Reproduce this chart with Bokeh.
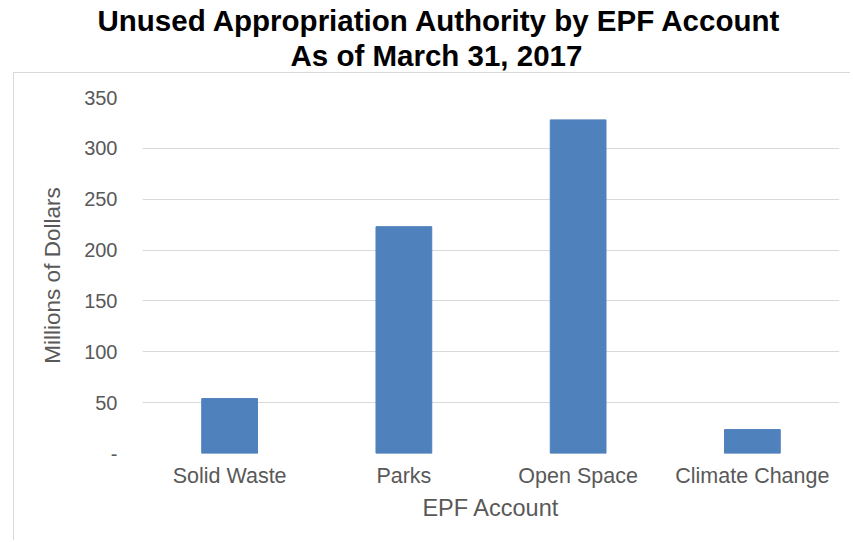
from bokeh.plotting import figure
from bokeh.models import Title, FixedTicker, Range1d
from bokeh.embed import file_html
from bokeh.resources import INLINE

categories = ["Solid Waste", "Parks", "Open Space", "Climate Change"]
values = [54, 223, 328, 23.5]
y_ticks = [0, 50, 100, 150, 200, 250, 300, 350]
title_line1 = "Unused Appropriation Authority by EPF Account"
title_line2 = "As of March 31, 2017"

FONT = "Liberation Sans"
GRAY = "#595959"
BORDER = "#d9d9d9"

p = figure(x_range=categories, y_range=Range1d(0, 350), width=850, height=540,
           output_backend="svg", toolbar_location=None, title=None,
           min_border_left=142, min_border_right=11, min_border_top=97,
           min_border_bottom=87, outline_line_color=None,
           border_fill_color=None, background_fill_color=None)

# chart-area border (left and top edges) drawn behind the transparent canvas
p.styles = {
    "background-color": "white",
    "background-image": f"linear-gradient({BORDER}, {BORDER}), linear-gradient({BORDER}, {BORDER})",
    "background-size": "1px 100%, 100% 1px",
    "background-position": "13px 72px, 13px 72px",
    "background-repeat": "no-repeat",
}

# empty spacer panel between the frame and the second title line
spacer = Title(text=" ", text_font=FONT, text_font_size="10px", standoff=12)
t2 = Title(text=title_line2, align="left", text_font=FONT,
           text_font_size="29.5px", text_font_style="bold", text_color="black",
           offset=148, standoff=1)
t1 = Title(text=title_line1, align="left", text_font=FONT,
           text_font_size="29.5px", text_font_style="bold", text_color="black",
           offset=-45, standoff=0)
p.add_layout(spacer, "above")
p.add_layout(t2, "above")
p.add_layout(t1, "above")

p.vbar(x=categories, top=values, width=0.32, color="#4F81BD", line_color="#4F81BD")

p.xgrid.grid_line_color = None
p.ygrid.grid_line_color = BORDER
p.ygrid.grid_line_width = 1

p.yaxis.ticker = FixedTicker(ticks=y_ticks)
p.yaxis.major_label_overrides = {0: "-"}
for ax in (p.xaxis[0], p.yaxis[0]):
    ax.axis_line_color = None
    ax.major_tick_line_color = None
    ax.minor_tick_line_color = None
    ax.major_tick_out = 0
    ax.major_tick_in = 0
    ax.major_label_text_font = FONT
    ax.major_label_text_color = GRAY
    ax.axis_label_text_font = FONT
    ax.axis_label_text_color = GRAY
    ax.axis_label_text_font_style = "normal"

p.yaxis.major_label_text_font_size = "20px"
p.yaxis.major_label_standoff = 25
p.yaxis.axis_label = "Millions of Dollars"
p.yaxis.axis_label_text_font_size = "22.5px"
p.yaxis.axis_label_standoff = 16

p.xaxis.major_label_text_font_size = "21.5px"
p.xaxis.major_label_standoff = 10
p.xaxis.axis_label = "EPF Account"
p.xaxis.axis_label_text_font_size = "23.5px"
p.xaxis.axis_label_standoff = 4

open("out.html", "w").write(file_html(p, INLINE))
